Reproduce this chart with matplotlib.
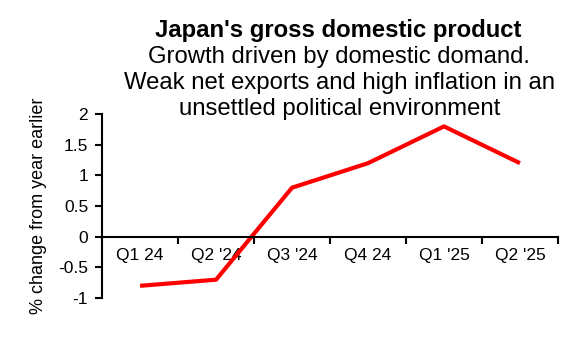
import numpy as np
from matplotlib import pyplot as plt

plt.rcParams['font.family'] = ['Liberation Sans', 'DejaVu Sans']

quarters = ["Q1 24", "Q2 '24", "Q3 '24", "Q4 24", "Q1 '25", "Q2 '25"]
gdp_change = [-0.8, -0.7, 0.8, 1.2, 1.8, 1.2]
y_ticks = [-1, -0.5, 0, 0.5, 1, 1.5, 2]
y_tick_labels = ['-1', '-0.5', '0', '0.5', '1', '1.5', '2']

fig = plt.figure(figsize=(5.8, 3.6), dpi=100)
ax = fig.add_axes([0.176, 0.172, 0.786, 0.511])

x = np.arange(len(quarters))
ax.plot(x, gdp_change, color='#ff0000', linewidth=3, solid_capstyle='butt')

ax.set_xlim(-0.5, len(quarters) - 0.5)
ax.set_ylim(-1, 2)

# category axis sits on zero, ticks between categories
ax.spines['bottom'].set_position(('data', 0))
ax.spines['top'].set_visible(False)
ax.spines['right'].set_visible(False)
ax.spines['bottom'].set_linewidth(1.5)
ax.spines['left'].set_linewidth(1.5)

ax.set_xticks(x)
ax.set_xticklabels(quarters, fontsize=12.5)
ax.set_xticks(x + 0.5, minor=True)
ax.tick_params(axis='x', which='major', length=0, pad=8)
ax.tick_params(axis='x', which='minor', length=5, width=1.5, direction='out')

ax.set_yticks(y_ticks)
ax.set_yticklabels(y_tick_labels, fontsize=12.5)
ax.tick_params(axis='y', length=5, width=1.5, direction='out', pad=5)

ax.set_ylabel('% change from year earlier', fontsize=13)
ax.yaxis.set_label_coords(-0.12, 0.5)

fig.text(0.583, 0.897, "Japan's gross domestic product", ha='center', va='baseline',
         fontsize=17.2, fontweight='bold')
fig.text(0.585, 0.825, "Growth driven by domestic domand.", ha='center', va='baseline',
         fontsize=17.2)
fig.text(0.585, 0.753, "Weak net exports and high inflation in an", ha='center', va='baseline',
         fontsize=17.2)
fig.text(0.585, 0.681, "unsettled political environment", ha='center', va='baseline',
         fontsize=17.2)

fig.savefig('out.png', dpi=100)
